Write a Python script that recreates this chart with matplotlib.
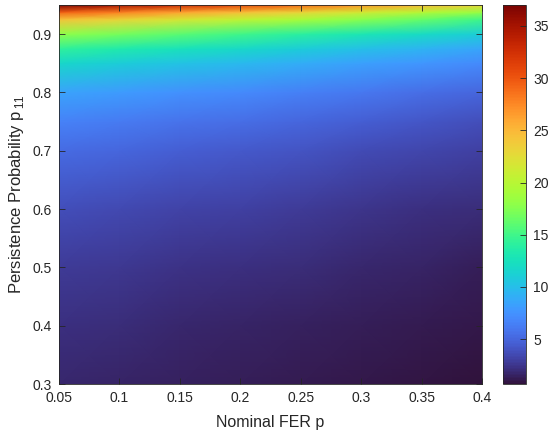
import matplotlib
matplotlib.use("Agg")
import matplotlib.pyplot as plt
import numpy as np

plt.rcParams['font.family'] = ['Liberation Sans', 'DejaVu Sans']
plt.rcParams['mathtext.fontset'] = 'custom'
plt.rcParams['mathtext.rm'] = 'Liberation Sans'

# nominal FER p (columns) and persistence probability p11 (rows)
fer = [0.05, 0.10, 0.15, 0.20, 0.25, 0.30, 0.35, 0.40]
p11 = [0.30, 0.40, 0.50, 0.60, 0.70, 0.75, 0.80, 0.85, 0.875, 0.90, 0.925, 0.9375, 0.95]

# values, one row per p11
row_030 = [1.71, 1.57, 1.43, 1.29, 1.14, 1.00, 0.86, 0.71]
row_040 = [2.17, 2.00, 1.83, 1.67, 1.50, 1.33, 1.17, 1.00]
row_050 = [2.8, 2.6, 2.4, 2.2, 2.0, 1.8, 1.6, 1.4]
row_060 = [3.75, 3.5, 3.25, 3.0, 2.75, 2.5, 2.25, 2.0]
row_070 = [5.33, 5.0, 4.67, 4.33, 4.0, 3.67, 3.33, 3.0]
row_075 = [6.6, 6.2, 5.8, 5.4, 5.0, 4.6, 4.2, 3.8]
row_080 = [8.5, 8.0, 7.5, 7.0, 6.5, 6.0, 5.5, 5.0]
row_085 = [11.67, 11.0, 10.33, 9.67, 9.0, 8.33, 7.67, 7.0]
row_0875 = [14.2, 13.4, 12.6, 11.8, 11.0, 10.2, 9.4, 8.6]
row_090 = [18, 17, 16, 15, 14, 13, 12, 11]
row_0925 = [24.33, 23.0, 21.67, 20.33, 19.0, 17.67, 16.33, 15.0]
row_09375 = [29.4, 27.8, 26.2, 24.6, 23.0, 21.4, 19.8, 18.2]
row_095 = [37, 35, 33, 31, 29, 27, 25, 23]

Z = np.array([row_030, row_040, row_050, row_060, row_070, row_075, row_080,
              row_085, row_0875, row_090, row_0925, row_09375, row_095])

xticks = [0.05, 0.1, 0.15, 0.2, 0.25, 0.3, 0.35, 0.4]
yticks = [0.3, 0.4, 0.5, 0.6, 0.7, 0.8, 0.9]
cticks = [5, 10, 15, 20, 25, 30, 35]

fig = plt.figure(figsize=(5.5, 4.36), dpi=100)
ax = fig.add_axes([59 / 550, 52 / 436, 423 / 550, 379 / 436])
cax = fig.add_axes([503 / 550, 52 / 436, 23 / 550, 379 / 436])

X, Y = np.meshgrid(fer, p11)
mesh = ax.pcolormesh(X, Y, Z, shading='gouraud', cmap='turbo',
                     vmin=Z.min(), vmax=Z.max(), rasterized=True)

ax.set_xlim(0.05, 0.4)
ax.set_ylim(0.3, 0.95)
ax.set_xticks(xticks)
ax.set_xticklabels([f'{t:g}' for t in xticks])
ax.set_yticks(yticks)
ax.set_yticklabels([f'{t:g}' for t in yticks])
ax.tick_params(direction='in', top=True, right=True, length=4, width=0.6,
               labelsize=10, colors='#262626', pad=5)
for s in ax.spines.values():
    s.set_color('#262626')
    s.set_linewidth(0.6)

ax.set_xlabel('Nominal FER p', fontsize=11.5, color='#262626', labelpad=7)
ax.set_ylabel(r'Persistence Probability p$_{\,\mathregular{11}}$', fontsize=12,
              color='#262626', labelpad=5)

cb = fig.colorbar(mesh, cax=cax, ticks=cticks)
cb.ax.tick_params(direction='in', length=4, width=0.6, labelsize=10,
                  colors='#262626', pad=5)
cb.outline.set_edgecolor('#262626')
cb.outline.set_linewidth(0.6)

fig.savefig('out.png', dpi=100)
